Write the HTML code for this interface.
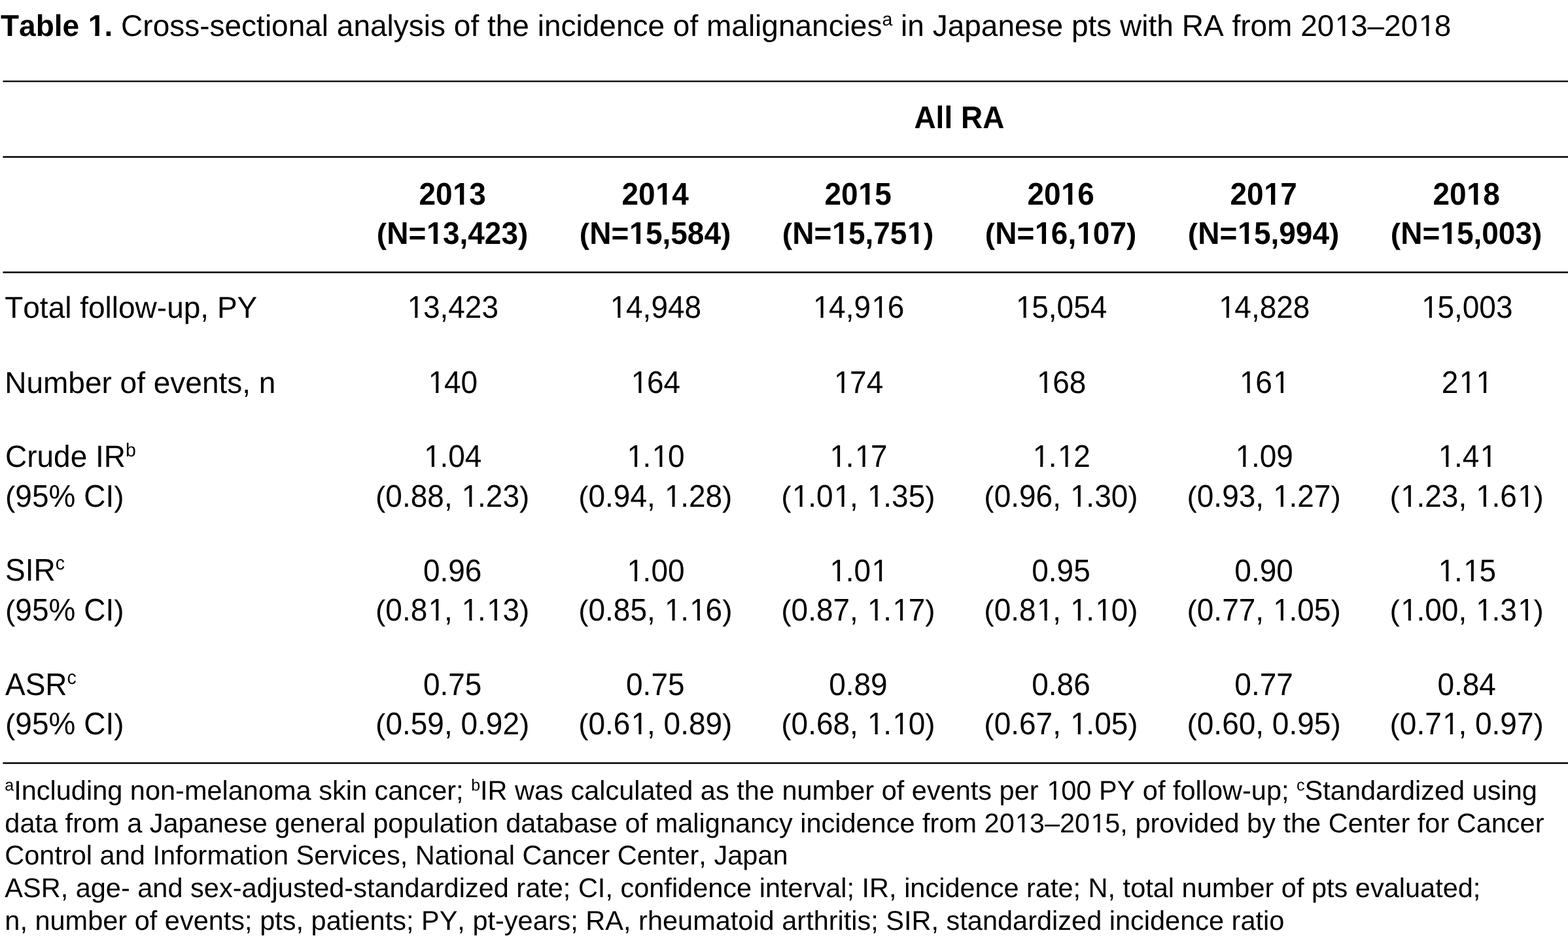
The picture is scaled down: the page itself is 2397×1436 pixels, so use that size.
<!DOCTYPE html>
<html lang="en"><head><meta charset="utf-8"><title>Table 1</title>
<style>
html,body{margin:0;padding:0;background:#fff;}
body{font-kerning:none;text-rendering:geometricPrecision;width:2397px;height:1436px;position:relative;overflow:hidden;font-family:"Liberation Sans",Arial,Helvetica,sans-serif;color:#000;}
.t{position:absolute;white-space:nowrap;line-height:normal;}
.c{width:1200px;text-align:center;}
.b{font-weight:bold;}
.s{position:relative;line-height:0;}
.p{display:inline-block;transform-origin:50% 43px;transform:scaleY(.93);}
svg{position:absolute;left:0;top:0;}
.o{display:inline-block;position:relative;left:1.42px;clip-path:polygon(-9px -9px,34.58px -9px,34.58px 38.76px,15.63px 38.76px,15.63px 99px,11.57px 99px,11.57px 38.76px,-9px 38.76px);}
.ob{display:inline-block;position:relative;left:0.70px;clip-path:polygon(-9px -9px,34.58px -9px,34.58px 37.51px,17.05px 37.51px,17.05px 99px,10.74px 99px,10.74px 37.51px,-9px 37.51px);}
.f{display:inline-block;position:relative;left:1.28px;clip-path:polygon(-9px -9px,32.08px -9px,32.08px 34.10px,14.10px 34.10px,14.10px 99px,10.44px 99px,10.44px 34.10px,-9px 34.10px);}
.fb{display:inline-block;position:relative;left:0.63px;clip-path:polygon(-9px -9px,32.08px -9px,32.08px 32.96px,15.38px 32.96px,15.38px 99px,9.69px 99px,9.69px 32.96px,-9px 32.96px);}
</style></head><body>
<svg width="2397" height="1436" viewBox="0 0 2397 1436"><line x1="5.3" y1="124.4" x2="2400" y2="124.4" stroke="#000" stroke-width="2.3" stroke-linecap="round"/><line x1="5.3" y1="240.0" x2="2400" y2="240.0" stroke="#000" stroke-width="2.3" stroke-linecap="round"/><line x1="5.3" y1="416.5" x2="2400" y2="416.5" stroke="#000" stroke-width="2.3" stroke-linecap="round"/><line x1="5.3" y1="1167.0" x2="2400" y2="1167.0" stroke="#000" stroke-width="2.3" stroke-linecap="round"/></svg>
<div class="t" style="left:1.00px;top:12px;font-size:46px"><b>Table <span class="ob">1</span>.</b> Cross-sectional analysis of the incidence of malignancies<span class="s" style="font-size:28.5px;top:-16.0px">a</span> in Japanese pts with RA from 20<span class="o">1</span>3–20<span class="o">1</span>8</div>
<div class="t b c" style="left:866.40px;top:153px;font-size:46px;transform-origin:0 43px;transform:scaleY(1.04)">All RA</div>
<div class="t b c" style="left:91.60px;top:270px;font-size:46px;transform-origin:0 43px;transform:scaleY(1.04)">20<span class="ob">1</span>3</div>
<div class="t b c" style="left:91.60px;top:330px;font-size:46px;transform-origin:0 43px;transform:scaleY(1.04)"><span class="p">(</span>N=<span class="ob">1</span>3,423<span class="p">)</span></div>
<div class="t b c" style="left:401.60px;top:270px;font-size:46px;transform-origin:0 43px;transform:scaleY(1.04)">20<span class="ob">1</span>4</div>
<div class="t b c" style="left:401.60px;top:330px;font-size:46px;transform-origin:0 43px;transform:scaleY(1.04)"><span class="p">(</span>N=<span class="ob">1</span>5,584<span class="p">)</span></div>
<div class="t b c" style="left:711.60px;top:270px;font-size:46px;transform-origin:0 43px;transform:scaleY(1.04)">20<span class="ob">1</span>5</div>
<div class="t b c" style="left:711.60px;top:330px;font-size:46px;transform-origin:0 43px;transform:scaleY(1.04)"><span class="p">(</span>N=<span class="ob">1</span>5,75<span class="ob">1</span><span class="p">)</span></div>
<div class="t b c" style="left:1021.60px;top:270px;font-size:46px;transform-origin:0 43px;transform:scaleY(1.04)">20<span class="ob">1</span>6</div>
<div class="t b c" style="left:1021.60px;top:330px;font-size:46px;transform-origin:0 43px;transform:scaleY(1.04)"><span class="p">(</span>N=<span class="ob">1</span>6,<span class="ob">1</span>07<span class="p">)</span></div>
<div class="t b c" style="left:1331.60px;top:270px;font-size:46px;transform-origin:0 43px;transform:scaleY(1.04)">20<span class="ob">1</span>7</div>
<div class="t b c" style="left:1331.60px;top:330px;font-size:46px;transform-origin:0 43px;transform:scaleY(1.04)"><span class="p">(</span>N=<span class="ob">1</span>5,994<span class="p">)</span></div>
<div class="t b c" style="left:1641.60px;top:270px;font-size:46px;transform-origin:0 43px;transform:scaleY(1.04)">20<span class="ob">1</span>8</div>
<div class="t b c" style="left:1641.60px;top:330px;font-size:46px;transform-origin:0 43px;transform:scaleY(1.04)"><span class="p">(</span>N=<span class="ob">1</span>5,003<span class="p">)</span></div>
<div class="t" style="left:7.20px;top:443px;font-size:46px">Total follow-up, PY</div>
<div class="t c" style="left:91.70px;top:443px;font-size:46px;transform-origin:0 43px;transform:scaleY(1.04)"><span class="o">1</span>3,423</div>
<div class="t c" style="left:401.80px;top:443px;font-size:46px;transform-origin:0 43px;transform:scaleY(1.04)"><span class="o">1</span>4,948</div>
<div class="t c" style="left:711.90px;top:443px;font-size:46px;transform-origin:0 43px;transform:scaleY(1.04)"><span class="o">1</span>4,9<span class="o">1</span>6</div>
<div class="t c" style="left:1022.00px;top:443px;font-size:46px;transform-origin:0 43px;transform:scaleY(1.04)"><span class="o">1</span>5,054</div>
<div class="t c" style="left:1332.10px;top:443px;font-size:46px;transform-origin:0 43px;transform:scaleY(1.04)"><span class="o">1</span>4,828</div>
<div class="t c" style="left:1642.20px;top:443px;font-size:46px;transform-origin:0 43px;transform:scaleY(1.04)"><span class="o">1</span>5,003</div>
<div class="t" style="left:7.20px;top:558px;font-size:46px">Number of events, n</div>
<div class="t c" style="left:91.70px;top:558px;font-size:46px;transform-origin:0 43px;transform:scaleY(1.04)"><span class="o">1</span>40</div>
<div class="t c" style="left:401.80px;top:558px;font-size:46px;transform-origin:0 43px;transform:scaleY(1.04)"><span class="o">1</span>64</div>
<div class="t c" style="left:711.90px;top:558px;font-size:46px;transform-origin:0 43px;transform:scaleY(1.04)"><span class="o">1</span>74</div>
<div class="t c" style="left:1022.00px;top:558px;font-size:46px;transform-origin:0 43px;transform:scaleY(1.04)"><span class="o">1</span>68</div>
<div class="t c" style="left:1332.10px;top:558px;font-size:46px;transform-origin:0 43px;transform:scaleY(1.04)"><span class="o">1</span>6<span class="o">1</span></div>
<div class="t c" style="left:1642.20px;top:558px;font-size:46px;transform-origin:0 43px;transform:scaleY(1.04)">2<span class="o">1</span><span class="o">1</span></div>
<div class="t" style="left:8.00px;top:671px;font-size:46px;transform-origin:0 43px;transform:scaleY(1.02)">Crude IR<span class="s" style="font-size:28.5px;top:-16.0px">b</span></div>
<div class="t c" style="left:91.70px;top:671px;font-size:46px;transform-origin:0 43px;transform:scaleY(1.04)"><span class="o">1</span>.04</div>
<div class="t c" style="left:401.80px;top:671px;font-size:46px;transform-origin:0 43px;transform:scaleY(1.04)"><span class="o">1</span>.<span class="o">1</span>0</div>
<div class="t c" style="left:711.90px;top:671px;font-size:46px;transform-origin:0 43px;transform:scaleY(1.04)"><span class="o">1</span>.<span class="o">1</span>7</div>
<div class="t c" style="left:1022.00px;top:671px;font-size:46px;transform-origin:0 43px;transform:scaleY(1.04)"><span class="o">1</span>.<span class="o">1</span>2</div>
<div class="t c" style="left:1332.10px;top:671px;font-size:46px;transform-origin:0 43px;transform:scaleY(1.04)"><span class="o">1</span>.09</div>
<div class="t c" style="left:1642.20px;top:671px;font-size:46px;transform-origin:0 43px;transform:scaleY(1.04)"><span class="o">1</span>.4<span class="o">1</span></div>
<div class="t" style="left:8.00px;top:732px;font-size:46px;transform-origin:0 43px;transform:scaleY(1.04)"><span class="p">(</span>95% CI<span class="p">)</span></div>
<div class="t c" style="left:91.70px;top:732px;font-size:46px;transform-origin:0 43px;transform:scaleY(1.04)"><span class="p">(</span>0.88, <span class="o">1</span>.23<span class="p">)</span></div>
<div class="t c" style="left:401.80px;top:732px;font-size:46px;transform-origin:0 43px;transform:scaleY(1.04)"><span class="p">(</span>0.94, <span class="o">1</span>.28<span class="p">)</span></div>
<div class="t c" style="left:711.90px;top:732px;font-size:46px;transform-origin:0 43px;transform:scaleY(1.04)"><span class="p">(</span><span class="o">1</span>.0<span class="o">1</span>, <span class="o">1</span>.35<span class="p">)</span></div>
<div class="t c" style="left:1022.00px;top:732px;font-size:46px;transform-origin:0 43px;transform:scaleY(1.04)"><span class="p">(</span>0.96, <span class="o">1</span>.30<span class="p">)</span></div>
<div class="t c" style="left:1332.10px;top:732px;font-size:46px;transform-origin:0 43px;transform:scaleY(1.04)"><span class="p">(</span>0.93, <span class="o">1</span>.27<span class="p">)</span></div>
<div class="t c" style="left:1642.20px;top:732px;font-size:46px;transform-origin:0 43px;transform:scaleY(1.04)"><span class="p">(</span><span class="o">1</span>.23, <span class="o">1</span>.6<span class="o">1</span><span class="p">)</span></div>
<div class="t" style="left:8.00px;top:845px;font-size:46px;transform-origin:0 43px;transform:scaleY(1.04)">SIR<span class="s" style="font-size:28.5px;top:-16.0px">c</span></div>
<div class="t c" style="left:91.70px;top:846px;font-size:46px;transform-origin:0 43px;transform:scaleY(1.04)">0.96</div>
<div class="t c" style="left:401.80px;top:846px;font-size:46px;transform-origin:0 43px;transform:scaleY(1.04)"><span class="o">1</span>.00</div>
<div class="t c" style="left:711.90px;top:846px;font-size:46px;transform-origin:0 43px;transform:scaleY(1.04)"><span class="o">1</span>.0<span class="o">1</span></div>
<div class="t c" style="left:1022.00px;top:846px;font-size:46px;transform-origin:0 43px;transform:scaleY(1.04)">0.95</div>
<div class="t c" style="left:1332.10px;top:846px;font-size:46px;transform-origin:0 43px;transform:scaleY(1.04)">0.90</div>
<div class="t c" style="left:1642.20px;top:846px;font-size:46px;transform-origin:0 43px;transform:scaleY(1.04)"><span class="o">1</span>.<span class="o">1</span>5</div>
<div class="t" style="left:8.00px;top:906px;font-size:46px;transform-origin:0 43px;transform:scaleY(1.04)"><span class="p">(</span>95% CI<span class="p">)</span></div>
<div class="t c" style="left:91.70px;top:906px;font-size:46px;transform-origin:0 43px;transform:scaleY(1.04)"><span class="p">(</span>0.8<span class="o">1</span>, <span class="o">1</span>.<span class="o">1</span>3<span class="p">)</span></div>
<div class="t c" style="left:401.80px;top:906px;font-size:46px;transform-origin:0 43px;transform:scaleY(1.04)"><span class="p">(</span>0.85, <span class="o">1</span>.<span class="o">1</span>6<span class="p">)</span></div>
<div class="t c" style="left:711.90px;top:906px;font-size:46px;transform-origin:0 43px;transform:scaleY(1.04)"><span class="p">(</span>0.87, <span class="o">1</span>.<span class="o">1</span>7<span class="p">)</span></div>
<div class="t c" style="left:1022.00px;top:906px;font-size:46px;transform-origin:0 43px;transform:scaleY(1.04)"><span class="p">(</span>0.8<span class="o">1</span>, <span class="o">1</span>.<span class="o">1</span>0<span class="p">)</span></div>
<div class="t c" style="left:1332.10px;top:906px;font-size:46px;transform-origin:0 43px;transform:scaleY(1.04)"><span class="p">(</span>0.77, <span class="o">1</span>.05<span class="p">)</span></div>
<div class="t c" style="left:1642.20px;top:906px;font-size:46px;transform-origin:0 43px;transform:scaleY(1.04)"><span class="p">(</span><span class="o">1</span>.00, <span class="o">1</span>.3<span class="o">1</span><span class="p">)</span></div>
<div class="t" style="left:8.00px;top:1020px;font-size:46px;transform-origin:0 43px;transform:scaleY(1.04)">ASR<span class="s" style="font-size:28.5px;top:-16.0px">c</span></div>
<div class="t c" style="left:91.70px;top:1020px;font-size:46px;transform-origin:0 43px;transform:scaleY(1.04)">0.75</div>
<div class="t c" style="left:401.80px;top:1020px;font-size:46px;transform-origin:0 43px;transform:scaleY(1.04)">0.75</div>
<div class="t c" style="left:711.90px;top:1020px;font-size:46px;transform-origin:0 43px;transform:scaleY(1.04)">0.89</div>
<div class="t c" style="left:1022.00px;top:1020px;font-size:46px;transform-origin:0 43px;transform:scaleY(1.04)">0.86</div>
<div class="t c" style="left:1332.10px;top:1020px;font-size:46px;transform-origin:0 43px;transform:scaleY(1.04)">0.77</div>
<div class="t c" style="left:1642.20px;top:1020px;font-size:46px;transform-origin:0 43px;transform:scaleY(1.04)">0.84</div>
<div class="t" style="left:8.00px;top:1080px;font-size:46px;transform-origin:0 43px;transform:scaleY(1.04)"><span class="p">(</span>95% CI<span class="p">)</span></div>
<div class="t c" style="left:91.70px;top:1080px;font-size:46px;transform-origin:0 43px;transform:scaleY(1.04)"><span class="p">(</span>0.59, 0.92<span class="p">)</span></div>
<div class="t c" style="left:401.80px;top:1080px;font-size:46px;transform-origin:0 43px;transform:scaleY(1.04)"><span class="p">(</span>0.6<span class="o">1</span>, 0.89<span class="p">)</span></div>
<div class="t c" style="left:711.90px;top:1080px;font-size:46px;transform-origin:0 43px;transform:scaleY(1.04)"><span class="p">(</span>0.68, <span class="o">1</span>.<span class="o">1</span>0<span class="p">)</span></div>
<div class="t c" style="left:1022.00px;top:1080px;font-size:46px;transform-origin:0 43px;transform:scaleY(1.04)"><span class="p">(</span>0.67, <span class="o">1</span>.05<span class="p">)</span></div>
<div class="t c" style="left:1332.10px;top:1080px;font-size:46px;transform-origin:0 43px;transform:scaleY(1.04)"><span class="p">(</span>0.60, 0.95<span class="p">)</span></div>
<div class="t c" style="left:1642.20px;top:1080px;font-size:46px;transform-origin:0 43px;transform:scaleY(1.04)"><span class="p">(</span>0.7<span class="o">1</span>, 0.97<span class="p">)</span></div>
<div class="t" style="left:7.30px;top:1185px;font-size:41.5px"><span class="s" style="font-size:25px;top:-14.0px">a</span>Including non-melanoma skin cancer; <span class="s" style="font-size:25px;top:-14.0px">b</span>IR was calculated as the number of events per <span class="f">1</span>00 PY of follow-up; <span class="s" style="font-size:25px;top:-14.0px">c</span>Standardized using</div>
<div class="t" style="left:7.30px;top:1235px;font-size:41.5px">data from a Japanese general population database of malignancy incidence from 20<span class="f">1</span>3–20<span class="f">1</span>5, provided by the Center for Cancer</div>
<div class="t" style="left:7.30px;top:1284px;font-size:41.5px">Control and Information Services, National Cancer Center, Japan</div>
<div class="t" style="left:7.30px;top:1334px;font-size:41.5px">ASR, age- and sex-adjusted-standardized rate; CI, confidence interval; IR, incidence rate; N, total number of pts evaluated;</div>
<div class="t" style="left:7.30px;top:1384px;font-size:41.5px">n, number of events; pts, patients; PY, pt-years; RA, rheumatoid arthritis; SIR, standardized incidence ratio</div>
</body></html>
